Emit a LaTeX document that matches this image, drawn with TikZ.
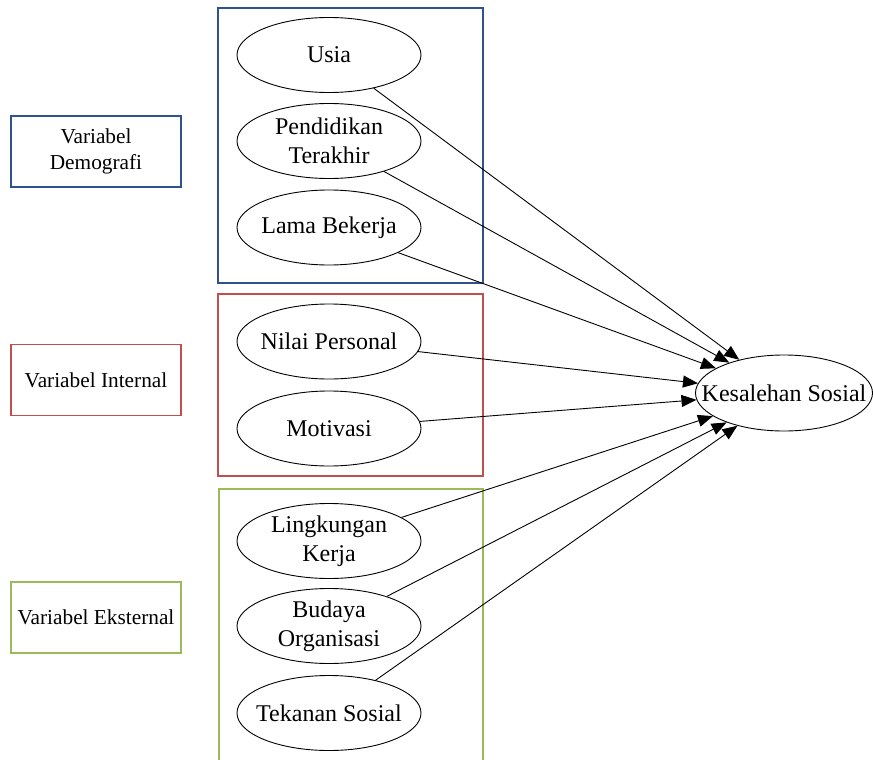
\documentclass[tikz,border=0pt]{standalone}
\usepackage{fontspec}
\setmainfont{Liberation Serif}
\usetikzlibrary{shapes.geometric,arrows.meta}
\definecolor{dblue}{RGB}{47,82,143}
\definecolor{dred}{RGB}{192,80,77}
\definecolor{dgreen}{RGB}{155,187,89}
\tikzset{
  var/.style={ellipse,draw=black,line width=0.9pt,minimum width=184pt,minimum height=75pt,inner sep=0pt},
  vtext/.style={align=center,font=\fontsize{24}{29}\selectfont,inner sep=0pt},
  group/.style={line width=1.8pt},
  lbl/.style={rectangle,line width=1.8pt,minimum width=170pt,minimum height=71pt,inner sep=0pt,align=center,font=\fontsize{21.3}{26}\selectfont},
  link/.style={line width=0.9pt,-{Triangle[length=15pt,width=12pt]}}
}
\begin{document}
\begin{tikzpicture}[x=1pt,y=-1pt]
\useasboundingbox (0,0) rectangle (873,760);
\begin{scope}
\clip (0,0) rectangle (873,760);
% group boxes
\draw[group,draw=dblue] (218,8) rectangle (483,283) coordinate (gb);
\draw[group,draw=dred] (218,294) rectangle (483,476) coordinate (gr);
\draw[group,draw=dgreen] (219,489) rectangle (483,775) coordinate (gg);
% left labels
\node[lbl,draw=dblue] (demo) at (96,151.5) {Variabel\\Demografi};
\node[lbl,draw=dred] (intern) at (96,380) {Variabel Internal};
\node[lbl,draw=dgreen] (ekst) at (96,617.5) {Variabel Eksternal};
% ellipses
\node[var] (usia) at (329,55) {};
\node[vtext] (usiat) at (usia) {Usia};
\node[var] (pend) at (329,141) {};
\node[vtext] (pendt) at (pend) {Pendidikan\\Terakhir};
\node[var] (lama) at (329,227.5) {};
\node[vtext] (lamat) at (lama) {Lama Bekerja};
\node[var] (nilai) at (329,341.5) {};
\node[vtext] (nilait) at (nilai) {Nilai Personal};
\node[var] (moti) at (329,428.5) {};
\node[vtext] (motit) at (moti) {Motivasi};
\node[var] (ling) at (329,541) {};
\node[vtext] (lingt) at (ling) {Lingkungan\\Kerja};
\node[var] (buda) at (329,626) {};
\node[vtext] (budat) at (buda) {Budaya\\Organisasi};
\node[var] (tek) at (329,713) {};
\node[vtext] (tekt) at (tek) {Tekanan Sosial};
\node[var,minimum width=177pt,minimum height=76pt] (kes) at (784,393) {};
\node[vtext] (kest) at (kes) {Kesalehan Sosial};
% links
\foreach \s in {usia,pend,lama,nilai,moti,ling,buda,tek}
  \draw[link] (\s) -- (kes);
\end{scope}
\end{tikzpicture}
\end{document}
